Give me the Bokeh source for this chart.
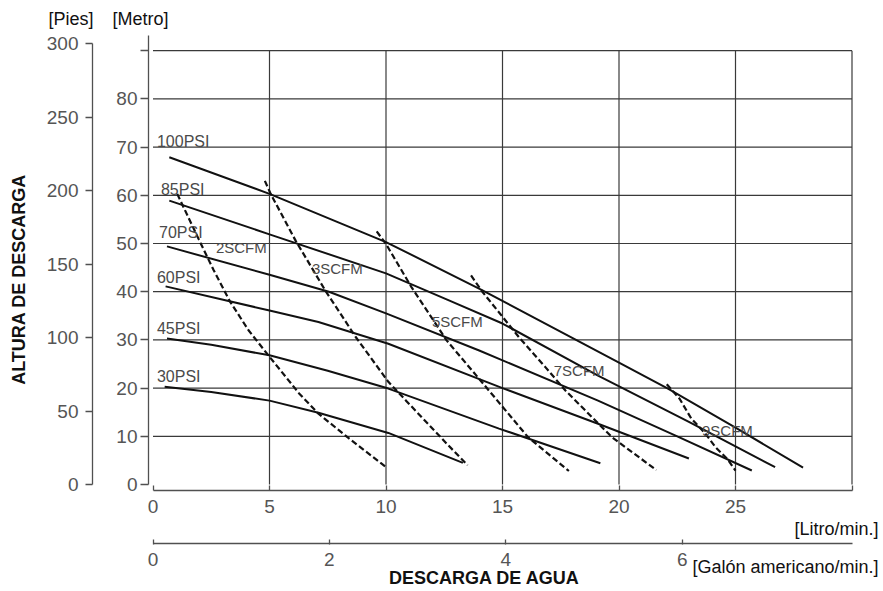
from math import pi
from bokeh.plotting import figure
from bokeh.models import Range1d, LinearAxis, FixedTicker, Label, ColumnDataSource
from bokeh.core.properties import value
from bokeh.embed import file_html
from bokeh.resources import INLINE

# ---------------- data (x: litros/min, y: metros) ----------------
PSI_NAMES = ["100PSI", "85PSI", "70PSI", "60PSI", "45PSI", "30PSI"]
PSI100_X = [0.7, 5.0, 10.0, 14.1, 20.0, 22.1, 25.0, 27.9]
PSI100_Y = [67.9, 60.3, 50.3, 40.4, 25.3, 19.9, 11.8, 3.5]
PSI85_X = [0.7, 5.0, 10.0, 12.7, 15.0, 19.1, 23.0, 26.7]
PSI85_Y = [58.9, 51.9, 43.8, 38.2, 33.4, 22.6, 13.0, 3.6]
PSI70_X = [0.6, 5.0, 7.55, 10.0, 14.0, 19.1, 22.5, 25.7]
PSI70_Y = [49.4, 43.5, 40.0, 35.5, 27.8, 17.4, 10.0, 2.9]
PSI60_X = [0.54, 5.0, 7.1, 10.1, 15.0, 19.1, 23.0]
PSI60_Y = [41.1, 36.1, 33.7, 29.2, 20.0, 12.6, 5.4]
PSI45_X = [0.6, 2.5, 5.0, 7.5, 10.1, 14.85, 19.2]
PSI45_Y = [30.3, 29.0, 26.8, 23.6, 19.9, 11.6, 4.4]
PSI30_X = [0.5, 2.5, 5.0, 7.1, 10.1, 13.3]
PSI30_Y = [20.3, 19.2, 17.4, 14.9, 10.7, 4.5]

SCFM_NAMES = ["2SCFM", "3SCFM", "5SCFM", "7SCFM", "9SCFM"]
SCFM2_X = [1.04, 1.97, 2.6, 3.3, 4.1, 4.95, 6.27, 7.1, 8.4, 10.0]
SCFM2_Y = [60.3, 50.8, 44.5, 38.0, 32.0, 26.8, 18.9, 14.7, 9.6, 3.6]
SCFM3_X = [4.8, 5.05, 6.12, 7.4, 8.7, 10.1, 10.86, 12.6, 13.5]
SCFM3_Y = [63.0, 60.3, 50.6, 40.2, 30.6, 21.3, 17.4, 8.5, 4.0]
SCFM5_X = [9.6, 10.0, 11.1, 12.6, 14.0, 16.1, 17.85]
SCFM5_Y = [52.5, 49.9, 40.9, 29.9, 21.9, 9.8, 2.8]
SCFM7_X = [13.65, 14.1, 15.7, 16.85, 17.7, 19.7, 21.6]
SCFM7_Y = [43.4, 40.2, 30.6, 24.3, 19.5, 9.8, 3.0]
SCFM9_X = [22.05, 22.6, 23.1, 23.7, 24.15, 24.65, 25.0]
SCFM9_Y = [20.8, 17.8, 13.7, 10.6, 7.7, 5.3, 2.9]

# label anchors of the curve names (litros/min, metros)
PSI_LABEL_X = [0.17, 0.34, 0.26, 0.17, 0.17, 0.17]
PSI_LABEL_Y = [71.2, 61.2, 52.3, 42.9, 32.4, 22.4]
SCFM_LABEL_X = [2.70, 6.82, 11.97, 17.2, 23.56]
SCFM_LABEL_Y = [49.2, 44.8, 33.8, 23.7, 11.2]

PIES_TICKS = [0, 50, 100, 150, 200, 250, 300]
METRO_TICKS = [0, 10, 20, 30, 40, 50, 60, 70, 80, 90]
LITRO_TICKS = [0, 5, 10, 15, 20, 25, 30]
GALON_TICKS = [0, 2, 4, 6]

FT_PER_M = 3.28084
L_PER_GAL = 3.78541

# ---------------- layout (canvas pixels) ----------------
W, H = 883, 591
ZERO_X, PX_PER_L = 152.5, 23.3      # where 0 L/min sits, pixels per L/min
ZERO_Y, PX_PER_M = 484.0, 4.82      # where 0 m sits, pixels per m


def dx(px):
    return (px - ZERO_X) / PX_PER_L


def dy(py):
    return (ZERO_Y - py) / PX_PER_M


FONT = "Liberation Sans"
GRID_COLOR = "#3a3a3a"
AXIS_COLOR = "#505050"
TICK_LABEL_COLOR = "#555555"

p = figure(
    width=W, height=H,
    x_range=Range1d(dx(0), dx(W)), y_range=Range1d(dy(H), dy(0)),
    output_backend="svg", toolbar_location=None,
    x_axis_location=None, y_axis_location=None,
    min_border=0, min_border_left=0, min_border_right=0,
    min_border_top=0, min_border_bottom=0,
    outline_line_color=None,
)
p.grid.visible = False
p.extra_y_ranges = {"ft": Range1d(dy(H) * FT_PER_M, dy(0) * FT_PER_M)}
p.extra_x_ranges = {"gal": Range1d(dx(0) / L_PER_GAL, dx(W) / L_PER_GAL)}


def style_axis(ax, tick_in, tick_out, standoff):
    ax.axis_line_color = AXIS_COLOR
    ax.axis_line_width = 1.3
    ax.major_tick_line_color = AXIS_COLOR
    ax.major_tick_line_width = 1.3
    ax.major_tick_in = tick_in
    ax.major_tick_out = tick_out
    ax.minor_tick_line_color = None
    ax.major_label_standoff = standoff
    ax.major_label_text_font = FONT
    ax.major_label_text_font_size = "19px"
    ax.major_label_text_color = TICK_LABEL_COLOR


metro_axis = LinearAxis(fixed_location=dx(148), ticker=FixedTicker(ticks=METRO_TICKS),
                        bounds=(0, dy(35)), major_label_overrides={90: ""})
style_axis(metro_axis, 0, 8, 3)
p.add_layout(metro_axis, "left")

pies_axis = LinearAxis(y_range_name="ft", fixed_location=dx(92),
                       ticker=FixedTicker(ticks=PIES_TICKS), bounds=(0, 300))
style_axis(pies_axis, 0, 7, 7)
p.add_layout(pies_axis, "left")

litro_axis = LinearAxis(fixed_location=dy(490), ticker=FixedTicker(ticks=LITRO_TICKS),
                        bounds=(0, 30), major_label_overrides={30: ""})
style_axis(litro_axis, 5, 0, 9)
p.add_layout(litro_axis, "below")

galon_axis = LinearAxis(x_range_name="gal", fixed_location=dy(543),
                        ticker=FixedTicker(ticks=GALON_TICKS), bounds=(0, 30 / L_PER_GAL))
style_axis(galon_axis, 4, 1, 8)
p.add_layout(galon_axis, "below")

# ---------------- grid ----------------
hgrid = METRO_TICKS[1:]
vgrid = LITRO_TICKS[1:]
p.segment(x0=[LITRO_TICKS[0]] * len(hgrid), y0=hgrid,
          x1=[LITRO_TICKS[-1]] * len(hgrid), y1=hgrid,
          line_color=GRID_COLOR, line_width=1.2)
p.segment(x0=vgrid, y0=[METRO_TICKS[0]] * len(vgrid),
          x1=vgrid, y1=[METRO_TICKS[-1]] * len(vgrid),
          line_color=GRID_COLOR, line_width=1.2)

# ---------------- curves ----------------
psi_curves = [(PSI100_X, PSI100_Y), (PSI85_X, PSI85_Y), (PSI70_X, PSI70_Y),
              (PSI60_X, PSI60_Y), (PSI45_X, PSI45_Y), (PSI30_X, PSI30_Y)]
for xs, ys in psi_curves:
    p.line(xs, ys, line_color="#111111", line_width=2)

scfm_curves = [(SCFM2_X, SCFM2_Y), (SCFM3_X, SCFM3_Y), (SCFM5_X, SCFM5_Y),
               (SCFM7_X, SCFM7_Y), (SCFM9_X, SCFM9_Y)]
for xs, ys in scfm_curves:
    p.line(xs, ys, line_color="#111111", line_width=2.2, line_dash="6 3")

psi_src = ColumnDataSource(dict(x=PSI_LABEL_X, y=PSI_LABEL_Y, t=PSI_NAMES))
p.text(x="x", y="y", text="t", source=psi_src, text_font=value(FONT),
       text_font_size="16px", text_color="#4a4a4a",
       text_align="left", text_baseline="middle")
scfm_src = ColumnDataSource(dict(x=SCFM_LABEL_X, y=SCFM_LABEL_Y, t=SCFM_NAMES))
p.text(x="x", y="y", text="t", source=scfm_src, text_font=value(FONT),
       text_font_size="15px", text_color="#4a4a4a",
       text_align="left", text_baseline="middle")

# ---------------- titles ----------------
def add_label(text, px, py, align="left", bold=False, angle=0.0, size="18px", color="#111111"):
    p.add_layout(Label(x=dx(px), y=dy(py), text=text, text_font=FONT,
                       text_font_size=size, text_color=color,
                       text_font_style="bold" if bold else "normal",
                       text_align=align, text_baseline="middle", angle=angle))


add_label("[Pies]", 48, 18)
add_label("[Metro]", 112, 18)
add_label("ALTURA DE DESCARGA", 18, 279, align="center", bold=True, angle=pi / 2)
add_label("[Litro/min.]", 878, 528, align="right")
add_label("DESCARGA DE AGUA", 484, 577, align="center", bold=True)
add_label("[Galón americano/min.]", 878, 566, align="right")

open("out.html", "w").write(file_html(p, INLINE))
